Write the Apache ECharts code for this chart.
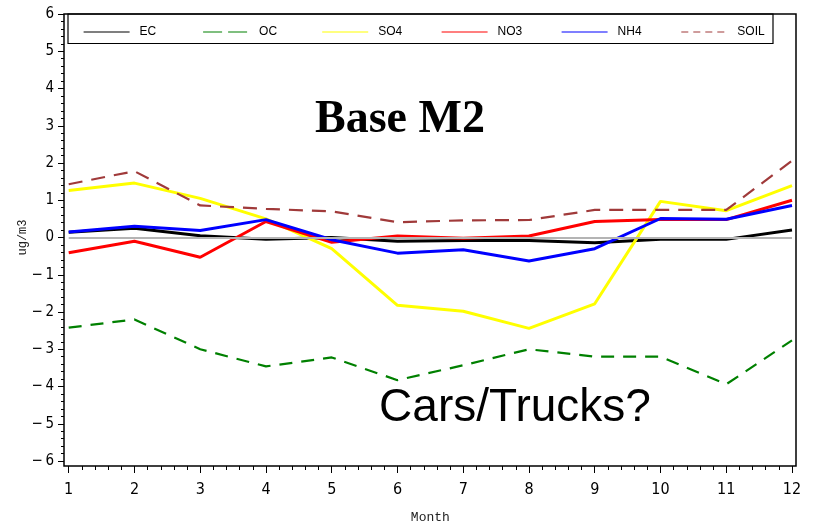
<!DOCTYPE html>
<html>
<head>
<meta charset="utf-8">
<script src="https://cdn.jsdelivr.net/npm/echarts@6/dist/echarts.min.js"></script>
<style>
  html, body { margin: 0; padding: 0; background: #fff; }
  #chart { width: 814px; height: 528px; }
</style>
</head>
<body>
<div id="chart"></div>
<script>
// monthly values, ug/m3
var months = [1, 2, 3, 4, 5, 6, 7, 8, 9, 10, 11, 12]
var ec   = [0.14, 0.25, 0.05, -0.05, 0.0, -0.1, -0.08, -0.08, -0.14, -0.05, -0.05, 0.2]
var oc   = [-2.42, -2.2, -3.0, -3.46, -3.22, -3.83, -3.43, -3.0, -3.2, -3.2, -3.94, -2.76]
var so4  = [1.26, 1.46, 1.05, 0.5, -0.3, -1.82, -1.98, -2.44, -1.78, 0.97, 0.72, 1.39]
var no3  = [-0.41, -0.1, -0.53, 0.43, -0.13, 0.04, -0.02, 0.04, 0.43, 0.48, 0.48, 1.0]
var nh4  = [0.15, 0.3, 0.19, 0.48, -0.06, -0.42, -0.33, -0.63, -0.3, 0.51, 0.49, 0.86]
var soil = [1.43, 1.78, 0.86, 0.77, 0.7, 0.41, 0.46, 0.47, 0.74, 0.74, 0.74, 2.06]

var names = ['EC', 'OC', 'SO4', 'NO3', 'NH4', 'SOIL']
var legendLeft = [78, 197.5, 316.6, 436, 556, 675.7]
var legendDash = ['solid', [19, 6], 'solid', 'solid', 'solid', [7, 5]]

var pairs = function (vals) {
  return vals.map(function (v, i) { return [months[i], v] })
}

var axisFont = "'Liberation Sans Narrow', 'DejaVu Sans Condensed', sans-serif"
var monoFont = "'Liberation Mono', 'DejaVu Sans Mono', monospace"

var mkSeries = function (name, vals, color, width, dash) {
  return {
    name: name,
    type: 'line',
    data: pairs(vals),
    symbol: 'none',
    animation: false,
    lineStyle: { color: color, width: width, type: dash || 'solid' },
    itemStyle: { color: color }
  }
}

var series = [
  mkSeries('EC', ec, '#000000', 3),
  mkSeries('OC', oc, '#008000', 2.2, [13, 9]),
  mkSeries('SO4', so4, '#ffff00', 3),
  mkSeries('NO3', no3, '#ff0000', 3),
  mkSeries('NH4', nh4, '#0000ff', 3),
  mkSeries('SOIL', soil, '#a03a3a', 2.2, [14, 9])
]
// grey reference line at zero
series[0].markLine = {
  silent: true,
  symbol: 'none',
  label: { show: false },
  lineStyle: { color: '#b4b4b4', width: 2, type: 'solid' },
  data: [{ yAxis: 0 }]
}

// one legend per entry so they sit at fixed slots like the original
var legends = names.map(function (n, i) {
  return {
    left: legendLeft[i],
    top: 21,
    itemWidth: 46,
    itemHeight: 14,
    selectedMode: false,
    itemStyle: { opacity: 0, borderWidth: 0 },
    lineStyle: { width: 1.2, type: legendDash[i] },
    textStyle: {
      fontFamily: "'Liberation Sans', Arial, sans-serif",
      fontSize: 12,
      color: '#000',
      padding: [0, 0, 0, 5]
    },
    data: [n]
  }
})

var option = {
  backgroundColor: '#fff',
  animation: false,
  grid: { left: 68.7, right: 22, top: 14, bottom: 67, outerBoundsMode: 'none', containLabel: false },
  legend: legends,
  xAxis: {
    type: 'value',
    min: 1,
    max: 12,
    interval: 1,
    offset: 5,
    name: 'Month',
    nameLocation: 'middle',
    nameGap: 45,
    nameMoveOverlap: false,
    nameTextStyle: { fontFamily: monoFont, fontSize: 13, color: '#222' },
    axisLine: { show: false, onZero: false },
    axisTick: { show: true, inside: false, length: 7, lineStyle: { color: '#000', width: 1 } },
    minorTick: { show: true, splitNumber: 5, length: 4, lineStyle: { color: '#000', width: 1 } },
    splitLine: { show: false },
    axisLabel: { margin: 16, fontFamily: axisFont, fontSize: 16, color: '#000' }
  },
  yAxis: {
    type: 'value',
    min: -6,
    max: 6,
    interval: 1,
    offset: 4.7,
    name: 'ug/m3',
    nameLocation: 'middle',
    nameRotate: 90,
    nameGap: 35,
    nameMoveOverlap: false,
    nameTextStyle: { fontFamily: monoFont, fontSize: 12, color: '#222' },
    axisLine: { show: false, onZero: false },
    axisTick: { show: true, inside: false, length: 6, lineStyle: { color: '#000', width: 1 } },
    minorTick: { show: true, splitNumber: 5, length: 3, lineStyle: { color: '#000', width: 1 } },
    splitLine: { show: false },
    axisLabel: {
      margin: 10,
      fontFamily: axisFont,
      fontSize: 15,
      color: '#000',
      formatter: function (v) { return v < 0 ? '\u2212\u2009' + (-v) : String(v) }
    }
  },
  graphic: [
    {
      type: 'rect',
      silent: true,
      z: 1,
      shape: { x: 64, y: 14, width: 732, height: 452 },
      style: { fill: 'none', stroke: '#000', lineWidth: 1.5 }
    },
    {
      type: 'rect',
      silent: true,
      z: 1,
      shape: { x: 68, y: 14, width: 705, height: 29.5 },
      style: { fill: 'none', stroke: '#000', lineWidth: 1.2 }
    },
    {
      type: 'text',
      silent: true,
      z: 10,
      style: {
        x: 400, y: 120,
        text: 'Base M2',
        font: "bold 46px 'Liberation Serif', 'Times New Roman', serif",
        fill: '#000',
        align: 'center',
        verticalAlign: 'middle'
      }
    },
    {
      type: 'text',
      silent: true,
      z: 10,
      style: {
        x: 515, y: 408,
        text: 'Cars/Trucks?',
        font: "46px 'Liberation Sans', Arial, sans-serif",
        fill: '#000',
        align: 'center',
        verticalAlign: 'middle'
      }
    }
  ],
  series: series
}

var chart = echarts.init(document.getElementById('chart'))
chart.setOption(option)
window.addEventListener('resize', function () { chart.resize() })
</script>
</body>
</html>
